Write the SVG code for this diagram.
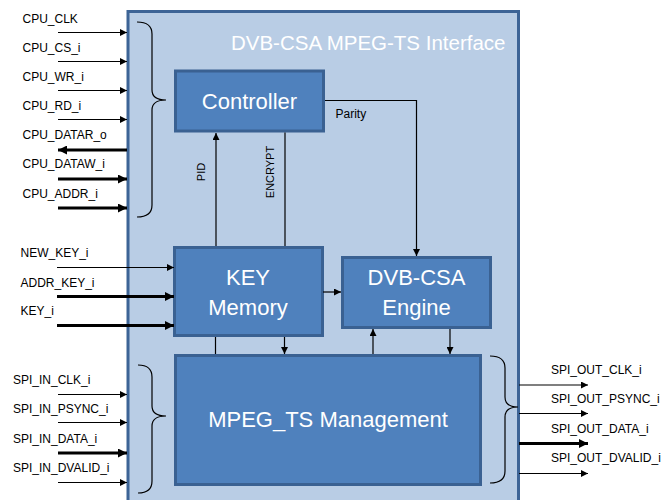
<svg xmlns="http://www.w3.org/2000/svg" width="662" height="500" viewBox="0 0 662 500">
<style>
.box{fill:#4f81bd;stroke:#3a6192;stroke-width:3}
.btxt{font-family:"Liberation Sans",Arial,sans-serif;font-size:22px;fill:#fff;text-anchor:middle}
.lbl{font-family:"Liberation Sans",Arial,sans-serif;font-size:12px;fill:#000}
.sm{font-family:"Liberation Sans",Arial,sans-serif;font-size:11px;fill:#000;text-anchor:middle}
.thin{stroke:#000;stroke-width:1.2;fill:none}
.thick{stroke:#000;stroke-width:3;fill:none}
.brace{stroke:#000;stroke-width:1.2;fill:none}
</style>
<defs>
<marker id="ah" markerUnits="userSpaceOnUse" markerWidth="8" markerHeight="7" refX="7" refY="3.5" orient="auto">
<path d="M0,0 L7,3.5 L0,7 z" fill="#000"/>
</marker>
<marker id="ahk" markerUnits="userSpaceOnUse" markerWidth="10" markerHeight="9" refX="9" refY="4.5" orient="auto">
<path d="M0,0 L9,4.5 L0,9 z" fill="#000"/>
</marker>
</defs>
<g id="interface">
<rect x="128" y="11.5" width="390.5" height="510" fill="#b9cde5" stroke="#3d6496" stroke-width="3"/>
<text x="505.5" y="50" font-family="'Liberation Sans',Arial,sans-serif" font-size="20.5" fill="#fff" text-anchor="end">DVB-CSA MPEG-TS Interface</text>
</g>
<g id="braces">
<path class="brace" d="M137,22 Q152,22 152,34 L152,90 Q152,100 166,100 Q152,100 152,110 L152,205 Q152,217 137,217"/>
<path class="brace" d="M138,365 Q152,365 152,377 L152,406 Q152,416 166,416 Q152,416 152,426 L152,481 Q152,493 138,493"/>
<path class="brace" d="M490,356 Q505,356 505,368 L505,397 Q505,407 518,407 Q505,407 505,417 L505,471 Q505,483 490,483"/>
</g>
<g id="controller">
<rect class="box" x="175.5" y="71" width="148" height="60"/>
<text class="btxt" x="249.5" y="109">Controller</text>
</g>
<g id="key-memory">
<rect class="box" x="174.5" y="247.5" width="148" height="88"/>
<text class="btxt" x="248" y="285">KEY</text>
<text class="btxt" x="248" y="315">Memory</text>
</g>
<g id="dvb-csa-engine">
<rect class="box" x="342.5" y="257.5" width="148" height="70"/>
<text class="btxt" x="416.5" y="285">DVB-CSA</text>
<text class="btxt" x="416.5" y="315">Engine</text>
</g>
<g id="mpeg-ts-management">
<rect class="box" x="175.5" y="355.5" width="305" height="129"/>
<text class="btxt" x="328" y="427" font-size="21.5">MPEG_TS Management</text>
</g>
<g id="connectors">
<line class="thin" x1="58" y1="32.5" x2="127" y2="32.5" marker-end="url(#ah)"/>
<line class="thin" x1="58" y1="61.5" x2="127" y2="61.5" marker-end="url(#ah)"/>
<line class="thin" x1="58" y1="90.5" x2="127" y2="90.5" marker-end="url(#ah)"/>
<line class="thin" x1="58" y1="119.5" x2="127" y2="119.5" marker-end="url(#ah)"/>
<line class="thick" x1="127" y1="150" x2="58" y2="150" marker-end="url(#ahk)"/>
<line class="thick" x1="58" y1="179" x2="127" y2="179" marker-end="url(#ahk)"/>
<line class="thick" x1="58" y1="208" x2="127" y2="208" marker-end="url(#ahk)"/>
<line class="thin" x1="57" y1="267.5" x2="174" y2="267.5" marker-end="url(#ah)"/>
<line class="thick" x1="57" y1="296.5" x2="174" y2="296.5" marker-end="url(#ahk)"/>
<line class="thick" x1="57" y1="325.5" x2="174" y2="325.5" marker-end="url(#ahk)"/>
<line class="thin" x1="58" y1="394.5" x2="127" y2="394.5" marker-end="url(#ah)"/>
<line class="thin" x1="58" y1="422.5" x2="127" y2="422.5" marker-end="url(#ah)"/>
<line class="thick" x1="58" y1="453" x2="127" y2="453" marker-end="url(#ahk)"/>
<line class="thin" x1="58" y1="482.5" x2="127" y2="482.5" marker-end="url(#ah)"/>
<line class="thin" x1="519" y1="385" x2="588" y2="385" marker-end="url(#ah)"/>
<line class="thin" x1="519" y1="413.5" x2="588" y2="413.5" marker-end="url(#ah)"/>
<line class="thick" x1="519" y1="443.5" x2="588" y2="443.5" marker-end="url(#ahk)"/>
<line class="thin" x1="519" y1="473.5" x2="588" y2="473.5" marker-end="url(#ah)"/>
<line class="thin" x1="216" y1="246" x2="216" y2="133" marker-end="url(#ah)"/>
<line class="thin" x1="285" y1="132.5" x2="285" y2="246"/>
<polyline class="thin" points="325,100.5 416.5,100.5 416.5,256" marker-end="url(#ah)"/>
<line class="thin" x1="323" y1="292" x2="341" y2="292" marker-end="url(#ah)"/>
<line class="thin" x1="215.5" y1="337" x2="215.5" y2="354"/>
<line class="thin" x1="284.5" y1="337" x2="284.5" y2="354" marker-end="url(#ah)"/>
<line class="thin" x1="373" y1="354" x2="373" y2="329" marker-end="url(#ah)"/>
<line class="thin" x1="450" y1="329" x2="450" y2="354" marker-end="url(#ah)"/>
</g>
<g id="labels">
<text class="lbl" x="22.5" y="23">CPU_CLK</text>
<text class="lbl" x="22.5" y="52">CPU_CS_i</text>
<text class="lbl" x="22.5" y="81">CPU_WR_i</text>
<text class="lbl" x="22.5" y="109.5">CPU_RD_i</text>
<text class="lbl" x="22.5" y="139">CPU_DATAR_o</text>
<text class="lbl" x="22.5" y="168">CPU_DATAW_i</text>
<text class="lbl" x="22.5" y="198">CPU_ADDR_i</text>
<text class="lbl" x="20.5" y="257">NEW_KEY_i</text>
<text class="lbl" x="20.5" y="286.5">ADDR_KEY_i</text>
<text class="lbl" x="20.5" y="315">KEY_i</text>
<text class="lbl" x="13" y="383.5">SPI_IN_CLK_i</text>
<text class="lbl" x="13" y="413">SPI_IN_PSYNC_i</text>
<text class="lbl" x="13" y="443">SPI_IN_DATA_i</text>
<text class="lbl" x="13" y="471.5">SPI_IN_DVALID_i</text>
<text class="lbl" x="551" y="373.5">SPI_OUT_CLK_i</text>
<text class="lbl" x="551" y="402.5">SPI_OUT_PSYNC_i</text>
<text class="lbl" x="551" y="432.5">SPI_OUT_DATA_i</text>
<text class="lbl" x="551" y="461.5">SPI_OUT_DVALID_i</text>
<text class="lbl" x="335.5" y="118" font-size="11.5">Parity</text>
<text class="sm" transform="translate(205,172) rotate(-90)">PID</text>
<text class="sm" transform="translate(274,172) rotate(-90)">ENCRYPT</text>
</g>
</svg>
